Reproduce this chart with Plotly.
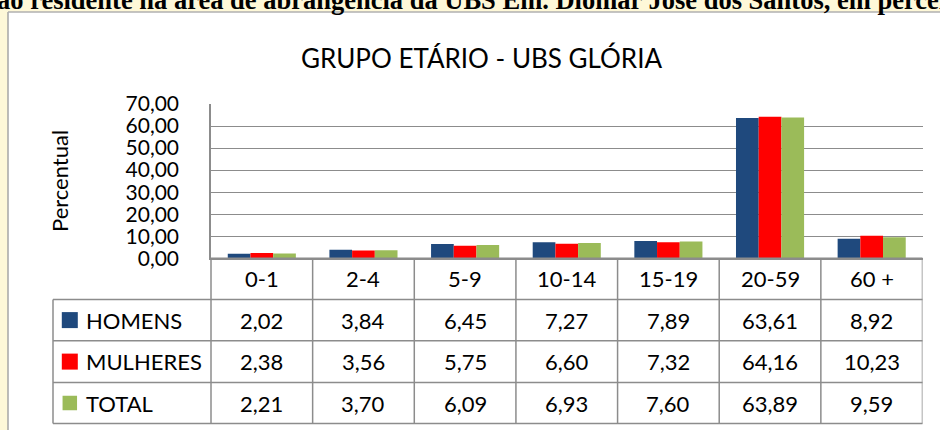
import plotly.graph_objects as go

# ---- data ----
categories = ["0-1", "2-4", "5-9", "10-14", "15-19", "20-59", "60 +"]
homens = [2.02, 3.84, 6.45, 7.27, 7.89, 63.61, 8.92]
mulheres = [2.38, 3.56, 5.75, 6.60, 7.32, 64.16, 10.23]
total = [2.21, 3.70, 6.09, 6.93, 7.60, 63.89, 9.59]
series_names = ["HOMENS", "MULHERES", "TOTAL"]
series_values = [homens, mulheres, total]
series_colors = ["#1F497D", "#FF0000", "#9BBB59"]
title_text = "GRUPO ETÁRIO - UBS GLÓRIA"
y_title = "Percentual"
banner_text = "ão residente na área de abrangência da UBS Em. Diomar José dos Santos, em percentual"

W, H = 940, 430
FONT = "Lato"
GRID = "#8C8C8C"


def px(x):
    return x / W


def py(y):
    return 1 - y / H


def fmt(v):
    return f"{v:.2f}".replace(".", ",")


fig = go.Figure()
for name, vals, col in zip(series_names, series_values, series_colors):
    fig.add_trace(go.Bar(x=categories, y=vals, name=name, marker_color=col,
                         marker_line_width=0, showlegend=False,
                         hoverinfo="x+y+name"))

# layout geometry (pixels)
PL, PR, PT, PB = 211, 922.5, 104, 258.3
rows = [258.3, 299.5, 340.7, 382.5, 423.5]
LEG_L = 53

shapes = []
# white chart box on yellow page
shapes.append(dict(type="rect", xref="paper", yref="paper", x0=px(8), x1=1.05,
                   y0=-0.05, y1=py(12), fillcolor="white", line_width=0, layer="below"))
shapes.append(dict(type="line", xref="paper", yref="paper", x0=px(8), x1=px(8),
                   y0=-0.05, y1=py(12), line=dict(color="#A6A6A6", width=1.5), layer="below"))
shapes.append(dict(type="line", xref="paper", yref="paper", x0=px(8), x1=1.05,
                   y0=py(12), y1=py(12), line=dict(color="#B0B0B0", width=1.5), layer="below"))

# table horizontal lines
for i, r in enumerate(rows):
    x0 = PL if i == 0 else LEG_L
    shapes.append(dict(type="line", xref="paper", yref="paper", x0=px(x0), x1=px(PR),
                       y0=py(r), y1=py(r), line=dict(color=GRID, width=1.5)))
# legend column left edge
shapes.append(dict(type="line", xref="paper", yref="paper", x0=px(LEG_L), x1=px(LEG_L),
                   y0=py(rows[1]), y1=py(rows[-1]), line=dict(color=GRID, width=1.5)))
# left table edge (continues axis line)
shapes.append(dict(type="line", xref="paper", yref="paper", x0=px(PL), x1=px(PL),
                   y0=py(rows[0]), y1=py(rows[-1]), line=dict(color=GRID, width=1.5)))
# column dividers via category axis
for i in range(1, len(categories) + 1):
    shapes.append(dict(type="line", xref="x", yref="paper", x0=i - 0.5, x1=i - 0.5,
                       y0=py(rows[0]), y1=py(rows[-1]), line=dict(color=GRID, width=1.5)))

# legend squares
sq_sizes = [16, 16, 14.5]
for k, (col, s) in enumerate(zip(series_colors, sq_sizes)):
    cy = (rows[k + 1] + rows[k + 2]) / 2
    cx = 69.8
    shapes.append(dict(type="rect", xref="paper", yref="paper",
                       x0=px(cx - s / 2), x1=px(cx + s / 2),
                       y0=py(cy + s / 2), y1=py(cy - s / 2),
                       fillcolor=col, line_width=0))

annotations = []
tfont = dict(family=FONT, size=22, color="black")
# header labels
for c in categories:
    annotations.append(dict(x=c, xref="x", y=py((rows[0] + rows[1]) / 2), yref="paper",
                            text=c, showarrow=False, font=tfont,
                            xanchor="center", yanchor="middle"))
# values
for k, vals in enumerate(series_values):
    cy = (rows[k + 1] + rows[k + 2]) / 2
    for c, v in zip(categories, vals):
        annotations.append(dict(x=c, xref="x", y=py(cy), yref="paper", text=fmt(v),
                                showarrow=False, font=tfont,
                                xanchor="center", yanchor="middle"))
    annotations.append(dict(x=px(84), xref="paper", y=py(cy), yref="paper",
                            text=series_names[k], showarrow=False, font=tfont,
                            xanchor="left", yanchor="middle"))
# title
annotations.append(dict(x=px(481), xref="paper", y=py(58), yref="paper", text=title_text,
                        showarrow=False, font=dict(family=FONT, size=26, color="black"),
                        xanchor="center", yanchor="middle"))
# y title
annotations.append(dict(x=px(59), xref="paper", y=py(181), yref="paper", text=y_title,
                        showarrow=False, textangle=-90,
                        font=dict(family=FONT, size=22, color="black"),
                        xanchor="center", yanchor="middle"))
# cut-off document caption above chart
annotations.append(dict(x=px(-5), xref="paper", y=py(0), yref="paper", text="<b>" + banner_text + "</b>",
                        showarrow=False, font=dict(family="Liberation Serif", size=26.5, color="black"),
                        xanchor="left", yanchor="middle"))

fig.update_layout(
    template="none",
    width=W, height=H, autosize=False,
    margin=dict(l=0, r=0, t=0, b=0, pad=0, autoexpand=False),
    paper_bgcolor="#FEF8D8",
    plot_bgcolor="white",
    separators=",.",
    barmode="group", bargap=0.33, bargroupgap=0,
    shapes=shapes, annotations=annotations,
    font=dict(family=FONT, color="black"),
    xaxis=dict(domain=[px(PL), px(PR)], type="category", categoryorder="array",
               categoryarray=categories, range=[-0.5, len(categories) - 0.5],
               showticklabels=False, ticks="", showgrid=False, zeroline=False,
               automargin=False,
               showline=True, linecolor=GRID, linewidth=1.5, fixedrange=True),
    yaxis=dict(domain=[py(PB), py(PT)], range=[0, 70], dtick=10, tick0=0,
               tickformat=".2f", showgrid=True, gridcolor=GRID, gridwidth=1.3,
               zeroline=False, showline=True, linecolor=GRID, linewidth=1.5,
               ticks="", ticklabelstandoff=26, automargin=False,
               tickfont=dict(family=FONT, size=21, color="black"), fixedrange=True),
)

fig.write_html("out.html", config={"responsive": False, "displayModeBar": False},
               post_script="document.body.style.margin='0px';")
